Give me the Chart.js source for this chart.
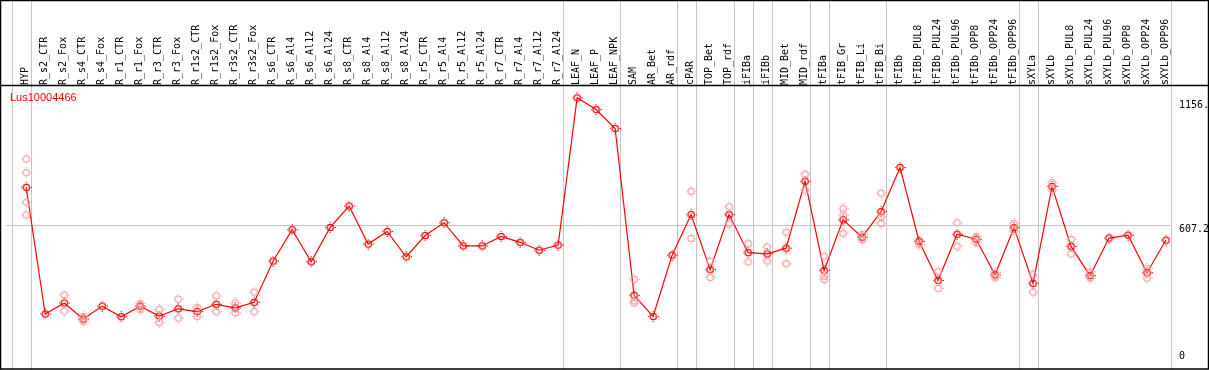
<!DOCTYPE html>
<html>
<head>
<meta charset="utf-8">
<script src="https://cdn.jsdelivr.net/npm/chart.js@4.4.1/dist/chart.umd.min.js"></script>
<style>
  html, body { margin: 0; padding: 0; background: #fff; }
</style>
</head>
<body>
<canvas id="chart" width="1209" height="370"></canvas>
<script>
// sample names along the top axis
const categories = [
  "HYP",
  "R_s2_CTR", "R_s2_Fox", "R_s4_CTR", "R_s4_Fox", "R_r1_CTR", "R_r1_Fox", "R_r3_CTR", "R_r3_Fox",
  "R_r1s2_CTR", "R_r1s2_Fox", "R_r3s2_CTR", "R_r3s2_Fox",
  "R_s6_CTR", "R_s6_Al4", "R_s6_Al12", "R_s6_Al24", "R_s8_CTR", "R_s8_Al4", "R_s8_Al12", "R_s8_Al24",
  "R_r5_CTR", "R_r5_Al4", "R_r5_Al12", "R_r5_Al24", "R_r7_CTR", "R_r7_Al4", "R_r7_Al12", "R_r7_Al24",
  "LEAF_N", "LEAF_P", "LEAF_NPK",
  "SAM", "AR_Bet", "AR_rdf", "cPAR", "TOP_Bet", "TOP_rdf", "iFIBa", "iFIBb", "MID_Bet", "MID_rdf",
  "tFIBa", "tFIB_Gr", "tFIB_Li", "tFIB_Bi", "tFIBb",
  "tFIBb_PUL8", "tFIBb_PUL24", "tFIBb_PUL96", "tFIBb_OPP8", "tFIBb_OPP24", "tFIBb_OPP96",
  "sXYLa", "sXYLb",
  "sXYLb_PUL8", "sXYLb_PUL24", "sXYLb_PUL96", "sXYLb_OPP8", "sXYLb_OPP24", "sXYLb_OPP96"
];

// mean expression per sample
const means = [
  776,
  214, 263, 192, 249, 202, 249, 205, 237,
  225, 257, 241, 266,
  449, 588, 446, 598, 693, 524, 580, 468,
  562, 619, 516, 516, 558, 532, 497, 520,
  1173, 1121, 1037,
  297, 203, 475, 655, 411, 655, 486, 481, 506, 803,
  407, 632, 555, 668, 864,
  537, 363, 568, 546, 388, 597,
  350, 780,
  514, 384, 551, 564, 397, 542
];

// individual replicate values (same order as categories)
const replicates = [
  [902, 841, 710, 654],
  [], [298, 227], [203, 180], [], [], [260, 234], [234, 177], [280, 196],
  [243, 203], [294, 224], [263, 220], [311, 224],
  [], [], [], [], [], [], [], [],
  [], [], [], [], [], [], [], [],
  [], [], [],
  [368, 272, 263], [], [], [758, 549], [449, 376], [690, 613], [526, 445], [511, 449], [577, 437], [834, 764],
  [471, 381, 366], [681, 654, 572], [567, 543], [750, 645, 616], [],
  [521], [402, 327], [619, 514], [558, 530], [398, 375], [616, 581],
  [389, 311], [797, 764],
  [545, 481], [401, 373], [], [], [417, 373], []
];

const yTicks = [0, 607.2, 1156];
const yTickLabels = ["0", "607.2", "1156."];
// first index of each tissue group (gray separators)
const groupStarts = [0, 1, 29, 32, 35, 36, 38, 39, 40, 42, 43, 46, 53, 54, 61];
const geneId = "Lus10004466";

const MONO = "'DejaVu Sans Mono', monospace";

function makeMarker(color) {
  const c = document.createElement("canvas");
  c.width = 11;
  c.height = 11;
  const g = c.getContext("2d");
  g.strokeStyle = color;
  g.lineWidth = 1.3;
  g.beginPath();
  g.arc(5.5, 5.5, 3.2, 0, Math.PI * 2);
  g.stroke();
  g.fillStyle = color;
  g.fillRect(5, 0, 1, 1);
  g.fillRect(5, 10, 1, 1);
  g.fillRect(0, 5, 1, 1);
  g.fillRect(10, 5, 1, 1);
  return c;
}

const repPoints = [];
replicates.forEach((vals, i) => vals.forEach((v) => repPoints.push({ x: i, y: v })));
const meanPoints = means.map((v, i) => ({ x: i, y: v }));

const decor = {
  id: "decor",
  beforeDraw(chart) {
    const ctx = chart.ctx;
    ctx.save();
    ctx.fillStyle = "#fff";
    ctx.fillRect(0, 0, chart.width, chart.height);
    ctx.restore();
  },
  beforeDatasetsDraw(chart) {
    const ctx = chart.ctx;
    const x = chart.scales.x;
    ctx.save();
    ctx.strokeStyle = "#c4c4c4";
    ctx.lineWidth = 1;
    groupStarts.forEach((s) => {
      const px = Math.round(x.getPixelForValue(s - 0.75)) + 0.5;
      ctx.beginPath();
      ctx.moveTo(px, 0);
      ctx.lineTo(px, chart.height);
      ctx.stroke();
    });
    ctx.restore();
  },
  afterDraw(chart) {
    const ctx = chart.ctx;
    const area = chart.chartArea;
    const y = chart.scales.y;
    ctx.save();
    ctx.strokeStyle = "#000";
    ctx.lineWidth = 1.5;
    ctx.strokeRect(0.5, 0.5, chart.width - 1, chart.height - 1.5);
    ctx.beginPath();
    ctx.moveTo(0, area.top + 0.5);
    ctx.lineTo(chart.width, area.top + 0.5);
    ctx.stroke();

    ctx.fillStyle = "#ff0000";
    ctx.font = "11px 'Liberation Sans', Arial, sans-serif";
    ctx.textBaseline = "alphabetic";
    ctx.textAlign = "left";
    ctx.fillText(geneId, 10, area.top + 16);

    ctx.fillStyle = "#000";
    ctx.font = "10px " + MONO;
    ctx.textBaseline = "middle";
    yTicks.forEach((v, i) => {
      const py = Math.min(y.getPixelForValue(v) + 4, area.bottom - 7);
      ctx.fillText(yTickLabels[i], area.right + 9, py);
    });
    ctx.restore();
  }
};

new Chart(document.getElementById("chart"), {
  type: "line",
  data: {
    datasets: [
      {
        data: repPoints,
        showLine: false,
        pointStyle: makeMarker("#f2a0a0"),
        pointRadius: 5
      },
      {
        data: meanPoints,
        borderColor: "#ff0000",
        borderWidth: 1.2,
        tension: 0,
        fill: false,
        pointStyle: makeMarker("#ff0000"),
        pointRadius: 5
      }
    ]
  },
  options: {
    responsive: false,
    animation: false,
    devicePixelRatio: 1,
    layout: { padding: { left: 1, right: 2, top: 0, bottom: 1 } },
    plugins: { legend: { display: false }, tooltip: { enabled: false } },
    scales: {
      x: {
        type: "linear",
        position: "top",
        min: -1.053,
        max: 60.21,
        afterBuildTicks: (s) => { s.ticks = categories.map((_, i) => ({ value: i })); },
        afterFit: (s) => { s.height = 85; },
        grid: { display: false, drawTicks: false },
        border: { display: false },
        ticks: {
          autoSkip: false,
          minRotation: 90,
          maxRotation: 90,
          padding: 0,
          labelOffset: 11,
          color: "#000",
          font: { family: MONO, size: 10 },
          callback: (v) => categories[v] ?? ""
        }
      },
      y: {
        type: "linear",
        position: "right",
        min: -7,
        max: 1230,
        afterBuildTicks: (s) => { s.ticks = yTicks.map((v) => ({ value: v })); },
        afterFit: (s) => { s.width = 37; },
        grid: {
          drawTicks: false,
          color: (c) => (c.tick && c.tick.value === 607.2 ? "#c4c4c4" : "rgba(0,0,0,0)")
        },
        border: { display: false },
        ticks: { display: false }
      }
    }
  },
  plugins: [decor]
});
</script>
</body>
</html>
